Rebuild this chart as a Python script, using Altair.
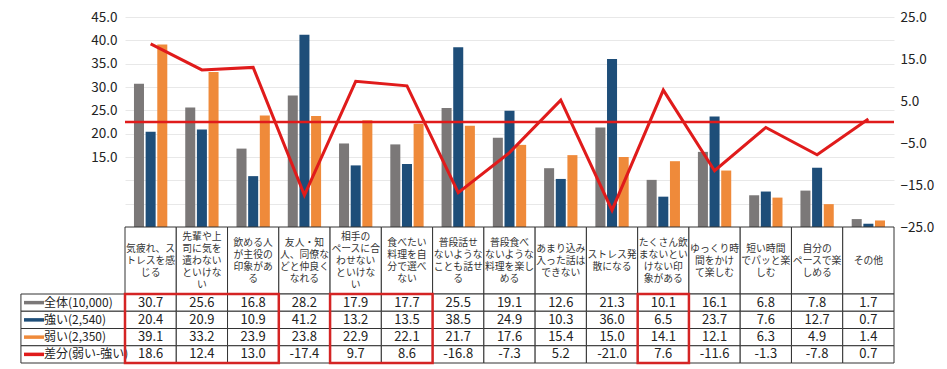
import altair as alt
import pandas as pd

categories = [
    "気疲れ、ストレスを感じる", "先輩や上司に気を遣わないといけない", "飲める人が主役の印象がある",
    "友人・知人、同僚などと仲良くなれる", "相手のペースに合わせないといけない", "食べたい料理を自分で選べない",
    "普段話せないようなことも話せる", "普段食べないような料理を楽しめる", "あまり込み入った話はできない",
    "ストレス発散になる", "たくさん飲まないといけない印象がある", "ゆっくり時間をかけて楽しむ",
    "短い時間でパッと楽しむ", "自分のペースで楽しめる", "その他",
]
header_labels = [
    "気疲れ、ス\nトレスを感\nじる", "先輩や上\n司に気を\n遣わない\nといけな\nい", "飲める人\nが主役の\n印象があ\nる",
    "友人・知\n人、同僚な\nどと仲良く\nなれる", "相手の\nペースに合\nわせない\nといけな\nい", "食べたい\n料理を自\n分で選べ\nない",
    "普段話せ\nないような\nことも話せ\nる", "普段食べ\nないような\n料理を楽し\nめる", "あまり込み\n入った話は\nできない",
    "ストレス発\n散になる", "たくさん飲\nまないとい\nけない印\n象がある", "ゆっくり時\n間をかけ\nて楽しむ",
    "短い時間\nでパッと楽\nしむ", "自分の\nペースで楽\nしめる", "その他",
]
series_names = ["全体(10,000)", "強い(2,540)", "弱い(2,350)"]
diff_name = "差分(弱い-強い)"
zentai = [30.7, 25.6, 16.8, 28.2, 17.9, 17.7, 25.5, 19.1, 12.6, 21.3, 10.1, 16.1, 6.8, 7.8, 1.7]
tsuyoi = [20.4, 20.9, 10.9, 41.2, 13.2, 13.5, 38.5, 24.9, 10.3, 36.0, 6.5, 23.7, 7.6, 12.7, 0.7]
yowai = [39.1, 33.2, 23.9, 23.8, 22.9, 22.1, 21.7, 17.6, 15.4, 15.0, 14.1, 12.1, 6.3, 4.9, 1.4]
diff = [18.6, 12.4, 13.0, -17.4, 9.7, 8.6, -16.8, -7.3, 5.2, -21.0, 7.6, -11.6, -1.3, -7.8, 0.7]
highlight_groups = [(0, 3), (4, 6), (10, 11)]  # highlighted category index ranges

GRAY = "#7b7878"
BLUE = "#1e4e79"
ORANGE = "#ef8a3a"
RED = "#e01b1b"
colors = [GRAY, BLUE, ORANGE, RED]
FONT = "Noto Sans CJK JP"

row_names = series_names + [diff_name]
W = 769
N = len(categories)
HDR_H = 67
LH = 12

color_scale = alt.Scale(domain=row_names, range=colors)

# ---------- top chart ----------
bar_rows = []
for s, vals in zip(series_names, [zentai, tsuyoi, yowai]):
    for c, v in zip(categories, vals):
        bar_rows.append({"category": c, "series": s, "value": v})
bar_df = pd.DataFrame(bar_rows)
diff_df = pd.DataFrame({"category": categories, "diff": diff})

xband = alt.X("category:N", sort=categories, axis=None,
              scale=alt.Scale(paddingInner=0.35, paddingOuter=0.175))

bars = alt.Chart(bar_df).mark_bar().encode(
    x=xband,
    xOffset=alt.XOffset("series:N", sort=series_names, scale=alt.Scale(paddingInner=0.14)),
    y=alt.Y("value:Q", scale=alt.Scale(domain=[0, 45], nice=False),
            axis=alt.Axis(values=list(range(0, 50, 5)), title=None, domain=False, ticks=False,
                          grid=True, gridColor="#e8e8e8", gridWidth=1, labelOverlap=False,
                          labelExpr="datum.value >= 15 ? format(datum.value, '.1f') : ''",
                          labelFontSize=13.5, labelColor="#222", labelFont=FONT, labelPadding=8)),
    color=alt.Color("series:N", sort=row_names, scale=color_scale, legend=None),
)

line = alt.Chart(diff_df).mark_line(color=RED, strokeWidth=3).encode(
    x=xband,
    y=alt.Y("diff:Q", scale=alt.Scale(domain=[-25, 25], nice=False),
            axis=alt.Axis(orient="right", values=list(range(-25, 30, 5)), format=".1f", title=None,
                          domain=False, ticks=False, grid=False, labelOverlap=False,
                          labelFontSize=13.5, labelColor="#222", labelFont=FONT, labelPadding=6)),
)
zero_rule = alt.Chart(pd.DataFrame({"z": [0]})).mark_rule(color=RED, strokeWidth=2.5).encode(
    y=alt.Y("z:Q")
)

top = alt.layer(bars, alt.layer(zero_rule, line)).resolve_scale(y="independent").properties(
    width=W, height=210
)

# ---------- table header ----------
xq = alt.Scale(domain=[0, N], nice=False, zero=False)
nlines = [len(l.split("\n")) for l in header_labels]
hdr_df = pd.DataFrame({
    "x0": list(range(N)), "x1": [i + 1 for i in range(N)],
    "xc": [i + 0.5 for i in range(N)], "label": header_labels,
    "ty": [HDR_H / 2 - n * LH / 2 + 1 for n in nlines],
})
hdr_cells = alt.Chart(hdr_df).mark_rect(fill="white", stroke="#333", strokeWidth=1).encode(
    x=alt.X("x0:Q", scale=xq, axis=None), x2="x1", y=alt.value(0), y2=alt.value(HDR_H)
)
hdr_text = alt.Chart(hdr_df).mark_text(lineBreak="\n", fontSize=9.8, font=FONT, color="#333",
                                       lineHeight=LH, baseline="top").encode(
    x=alt.X("xc:Q", scale=xq, axis=None), y=alt.Y("ty:Q", scale=None, axis=None), text="label:N"
)
header = alt.layer(hdr_cells, hdr_text).properties(width=W, height=HDR_H)

# ---------- table values ----------
row_vals = [zentai, tsuyoi, yowai, diff]
cell_rows = []
for r, vals in enumerate(row_vals):
    for i, v in enumerate(vals):
        cell_rows.append({"x0": i, "x1": i + 1, "xc": i + 0.5, "r0": r, "r1": r + 1,
                          "rc": r + 0.5, "txt": f"{v:.1f}"})
cell_df = pd.DataFrame(cell_rows)
yq = alt.Scale(domain=[0, 4], nice=False, zero=False, reverse=True)

cells = alt.Chart(cell_df).mark_rect(fill="white", stroke="#333", strokeWidth=1).encode(
    x=alt.X("x0:Q", scale=xq, axis=None), x2="x1",
    y=alt.Y("r0:Q", scale=yq, axis=None), y2="r1",
)
cell_text = alt.Chart(cell_df).mark_text(fontSize=13, font=FONT, color="#222", baseline="middle").encode(
    x=alt.X("xc:Q", scale=xq, axis=None), y=alt.Y("rc:Q", scale=yq, axis=None), text="txt:N"
)

leg_df = pd.DataFrame({
    "name": row_names, "r0": [0, 1, 2, 3], "r1": [1, 2, 3, 4], "rc": [0.5, 1.5, 2.5, 3.5],
    "lx0": [-2.03] * 4, "lx1": [0] * 4, "sx0": [-1.97] * 4, "sx1": [-1.58] * 4, "tx": [-1.58] * 4,
})
leg_cells = alt.Chart(leg_df).mark_rect(fill="white", stroke="#333", strokeWidth=1).encode(
    x=alt.X("lx0:Q", scale=xq, axis=None), x2="lx1",
    y=alt.Y("r0:Q", scale=yq, axis=None), y2="r1",
)
leg_sym = alt.Chart(leg_df).mark_rule(strokeWidth=3.5).encode(
    x=alt.X("sx0:Q", scale=xq, axis=None), x2="sx1",
    y=alt.Y("rc:Q", scale=yq, axis=None),
    color=alt.Color("name:N", sort=row_names, scale=color_scale, legend=None),
)
leg_text = alt.Chart(leg_df).mark_text(fontSize=12, font=FONT, color="#222", align="left",
                                       baseline="middle").encode(
    x=alt.X("tx:Q", scale=xq, axis=None), y=alt.Y("rc:Q", scale=yq, axis=None), text="name:N"
)

hl_df = pd.DataFrame({"s": [g[0] for g in highlight_groups], "e": [g[1] for g in highlight_groups],
                      "r0": [0] * len(highlight_groups), "r1": [4] * len(highlight_groups)})
hl = alt.Chart(hl_df).mark_rect(fillOpacity=0, stroke="#d42424", strokeWidth=2.5).encode(
    x=alt.X("s:Q", scale=xq, axis=None), x2="e",
    y=alt.Y("r0:Q", scale=yq, axis=None), y2="r1",
)

values = alt.layer(cells, cell_text, leg_cells, leg_sym, leg_text, hl).properties(width=W, height=69)

chart = alt.vconcat(top, header, values, spacing=0, bounds="flush").properties(
    padding={"left": 12, "top": 2, "right": 5, "bottom": 0}
).configure_view(stroke=None).configure_concat(spacing=0)

chart.save("out.html", embed_options={"renderer": "svg", "actions": False})
